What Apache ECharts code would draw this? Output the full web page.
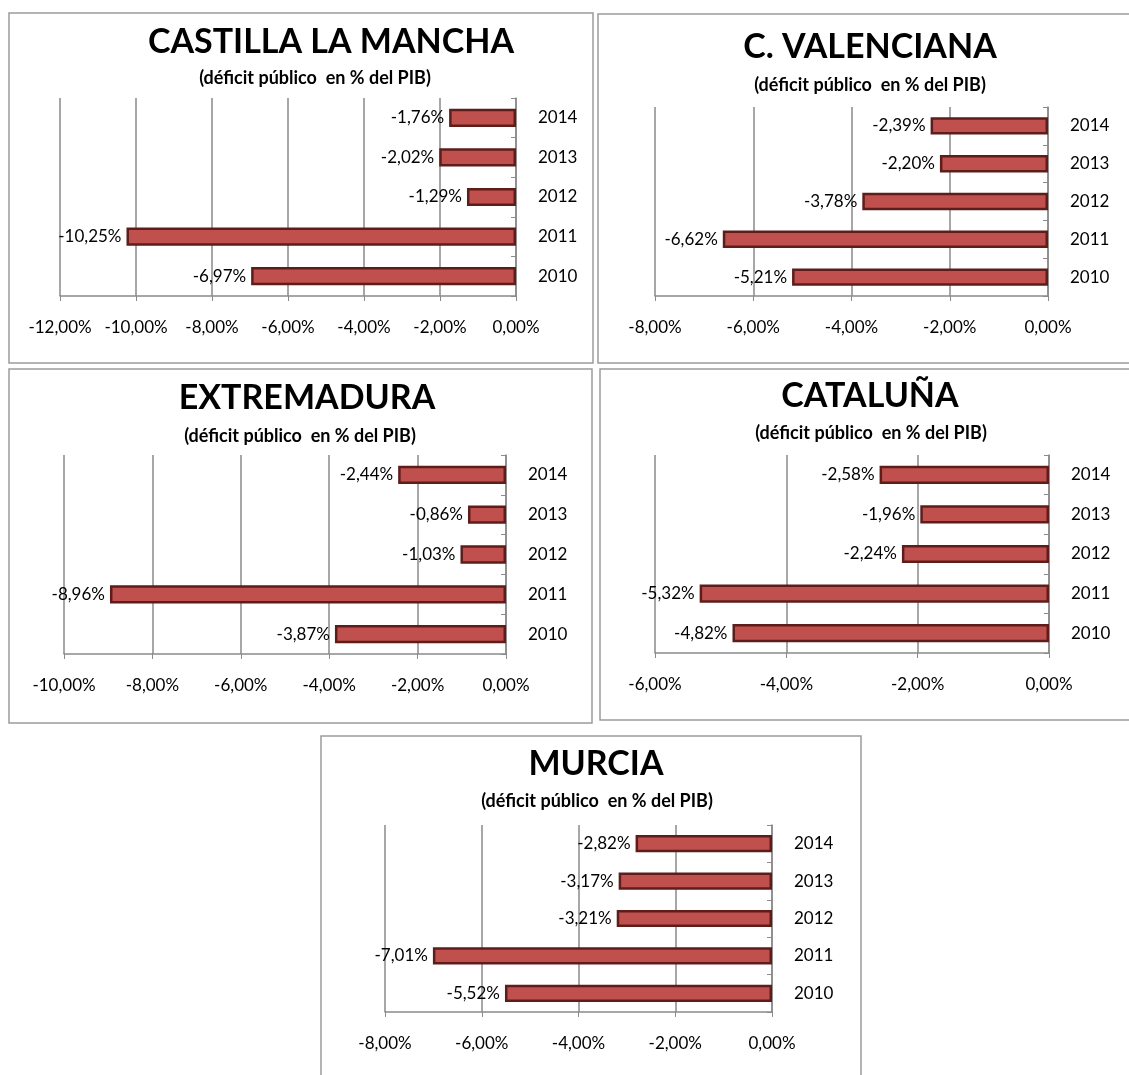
<!DOCTYPE html>
<html>
<head>
<meta charset="utf-8">
<script src="https://cdn.jsdelivr.net/npm/echarts@6/dist/echarts.min.js"></script>
<style>
  html, body { margin: 0; padding: 0; background: #fff; }
  #chart { width: 1129px; height: 1075px; }
</style>
</head>
<body>
<div id="chart"></div>
<script>
// years, bottom to top
const years = ["2010", "2011", "2012", "2013", "2014"];

// déficit público en % del PIB
const castillaLaMancha = [-6.97, -10.25, -1.29, -2.02, -1.76];
const valenciana = [-5.21, -6.62, -3.78, -2.2, -2.39];
const extremadura = [-3.87, -8.96, -1.03, -0.86, -2.44];
const cataluna = [-4.82, -5.32, -2.24, -1.96, -2.58];
const murcia = [-5.52, -7.01, -3.21, -3.17, -2.82];

// axis minimum of each panel (max is always 0, step 2)
const axisMins = [-12, -8, -10, -6, -8];
const titles = ["CASTILLA LA MANCHA", "C. VALENCIANA", "EXTREMADURA", "CATALUÑA", "MURCIA"];
const subtitle = "(déficit público  en % del PIB)";

const font = "Lato, 'Open Sans', sans-serif";

// layout of each panel: box, plot area, title position
const panels = [
  { box: [9, 13, 584, 350], grid: [60, 98, 456, 198], cx: 331, ty: 42, sx: 315, sy: 78 },
  { box: [598, 14, 540, 349], grid: [655, 107, 393, 189], cx: 870, ty: 47, sx: 870, sy: 85 },
  { box: [9, 369, 583, 354], grid: [64, 455, 442, 199], cx: 307, ty: 398, sx: 300, sy: 436 },
  { box: [600, 369, 540, 351], grid: [655, 455, 394, 198], cx: 870, ty: 396, sx: 871, sy: 433 },
  { box: [321, 736, 540, 360], grid: [385, 825, 387, 187], cx: 596, ty: 764, sx: 597, sy: 801 }
];
const seriesData = [castillaLaMancha, valenciana, extremadura, cataluna, murcia];

function pct(v) {
  return v.toFixed(2).replace(".", ",") + "%";
}

const chart = echarts.init(document.getElementById("chart"));

const option = {
  animation: false,
  backgroundColor: "#fff",
  grid: [],
  xAxis: [],
  yAxis: [],
  series: [],
  graphic: []
};

panels.forEach((p, i) => {
  option.graphic.push({
    type: "rect",
    shape: { x: p.box[0], y: p.box[1], width: p.box[2], height: p.box[3] },
    style: { fill: "none", stroke: "#9c9c9c", lineWidth: 1.5 },
    z: -1
  });
  option.graphic.push({
    type: "text",
    x: p.cx,
    y: p.ty,
    style: {
      text: titles[i],
      font: "bold 34px " + font,
      fill: "#000",
      textAlign: "center",
      textVerticalAlign: "middle"
    }
  });
  option.graphic.push({
    type: "text",
    x: p.sx,
    y: p.sy,
    style: {
      text: subtitle,
      font: "bold 18px " + font,
      fill: "#000",
      textAlign: "center",
      textVerticalAlign: "middle"
    }
  });

  option.grid.push({
    left: p.grid[0],
    top: p.grid[1],
    width: p.grid[2],
    height: p.grid[3]
  });

  option.xAxis.push({
    type: "value",
    gridIndex: i,
    min: axisMins[i],
    max: 0,
    interval: 2,
    axisLine: { show: true, lineStyle: { color: "#8a8a8a", width: 1.5 } },
    axisTick: { show: true, length: 5, lineStyle: { color: "#8a8a8a" } },
    splitLine: { show: true, lineStyle: { color: "#8a8a8a", width: 1.5 } },
    axisLabel: {
      margin: 23,
      fontSize: 17,
      fontFamily: font,
      color: "#000",
      formatter: pct
    }
  });

  option.yAxis.push({
    type: "category",
    gridIndex: i,
    position: "right",
    data: years,
    axisLine: { show: true, lineStyle: { color: "#8a8a8a", width: 1.5 } },
    axisTick: { show: true, inside: true, length: 5, lineStyle: { color: "#8a8a8a" } },
    axisLabel: {
      margin: 22,
      fontSize: 17,
      fontFamily: font,
      color: "#000"
    }
  });

  option.series.push({
    type: "bar",
    xAxisIndex: i,
    yAxisIndex: i,
    data: seriesData[i],
    barWidth: "46%",
    itemStyle: {
      color: "#c0504d",
      borderColor: "#5e1d1b",
      borderWidth: 2.5
    },
    label: {
      show: true,
      position: "left",
      distance: 5,
      fontSize: 17,
      fontFamily: font,
      color: "#000",
      formatter: (p) => pct(p.value)
    }
  });
});

chart.setOption(option);
</script>
</body>
</html>
